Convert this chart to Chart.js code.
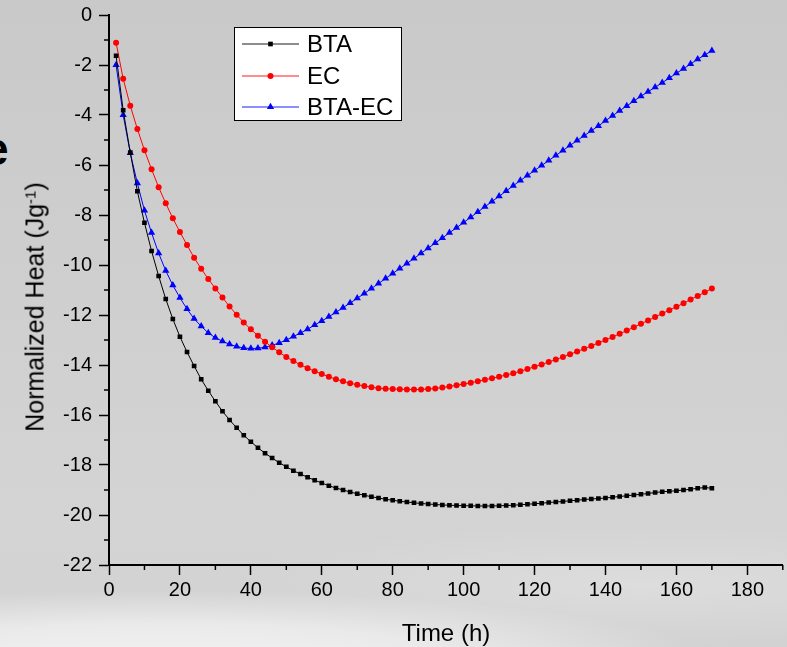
<!DOCTYPE html>
<html>
<head>
<meta charset="utf-8">
<script src="https://cdn.jsdelivr.net/npm/chart.js@4.4.1/dist/chart.umd.min.js"></script>
<style>
  html, body { margin: 0; padding: 0; }
  body {
    width: 787px; height: 647px; overflow: hidden; position: relative;
    font-family: "Liberation Sans", Arial, sans-serif;
    background:
      radial-gradient(ellipse 560px 75px at 160px 665px, rgba(244,244,244,0.97) 0%, rgba(238,238,238,0.85) 55%, rgba(238,238,238,0) 100%),
      radial-gradient(ellipse 420px 60px at 640px 585px, rgba(225,225,225,0.7) 0%, rgba(225,225,225,0) 100%),
      linear-gradient(180deg, #c9c9c9 0%, #cfcfcf 45%, #d4d4d4 80%, #d2d2d2 100%);
  }
  #chart { position: absolute; left: 0; top: 0; }
  .label { position: absolute; white-space: nowrap; color: #000; }
  #yTitle { left: 35px; top: 307px; font-size: 25px; transform: translate(-50%, -50%) rotate(-90deg); }
  #yTitle sup { font-size: 15px; vertical-align: 0.55em; line-height: 0; }
  #xTitle { left: 446px; top: 633px; font-size: 24px; transform: translate(-50%, -50%); }
  #frag { left: -17px; top: 122px; font-size: 46px; font-weight: bold; }
</style>
</head>
<body>
<div class="label" id="frag">e</div>
<canvas id="chart" width="787" height="647"></canvas>
<div class="label" id="yTitle">Normalized Heat (Jg<sup>-1</sup>)</div>
<div class="label" id="xTitle">Time (h)</div>
<script>
// Sampling times (h)
const times = [2,4,6,8,10,12,14,16,18,20,22,24,26,28,30,32,34,36,38,40,
  42,44,46,48,50,52,54,56,58,60,62,64,66,68,70,72,74,76,78,80,
  82,84,86,88,90,92,94,96,98,100,102,104,106,108,110,112,114,116,118,120,
  122,124,126,128,130,132,134,136,138,140,142,144,146,148,150,152,154,156,158,160,
  162,164,166,168,170];

// Normalized heat (J/g) per sample
const bta = [-1.63,-3.81,-5.50,-7.05,-8.31,-9.44,-10.44,-11.36,-12.16,-12.87,
  -13.48,-14.04,-14.57,-15.03,-15.45,-15.85,-16.20,-16.51,-16.81,-17.07,
  -17.31,-17.53,-17.72,-17.91,-18.07,-18.23,-18.36,-18.49,-18.61,-18.72,
  -18.83,-18.92,-19.00,-19.08,-19.15,-19.21,-19.27,-19.32,-19.37,-19.41,
  -19.45,-19.48,-19.51,-19.54,-19.56,-19.58,-19.60,-19.61,-19.62,-19.63,
  -19.63,-19.64,-19.64,-19.64,-19.63,-19.62,-19.61,-19.59,-19.57,-19.55,
  -19.53,-19.50,-19.48,-19.46,-19.43,-19.41,-19.38,-19.36,-19.34,-19.32,
  -19.29,-19.26,-19.23,-19.20,-19.17,-19.14,-19.10,-19.07,-19.05,-19.03,
  -19.00,-18.97,-18.93,-18.90,-18.93];

const ec = [-1.11,-2.55,-3.63,-4.56,-5.41,-6.17,-6.89,-7.53,-8.13,-8.68,
  -9.20,-9.71,-10.15,-10.56,-10.94,-11.30,-11.66,-11.99,-12.30,-12.57,
  -12.83,-13.07,-13.29,-13.49,-13.68,-13.84,-13.99,-14.13,-14.25,-14.36,
  -14.47,-14.57,-14.65,-14.73,-14.79,-14.84,-14.89,-14.93,-14.95,-14.96,
  -14.97,-14.98,-14.98,-14.98,-14.96,-14.94,-14.90,-14.86,-14.81,-14.76,
  -14.71,-14.65,-14.59,-14.53,-14.47,-14.40,-14.33,-14.25,-14.16,-14.07,
  -13.98,-13.88,-13.78,-13.68,-13.57,-13.46,-13.35,-13.24,-13.12,-13.00,
  -12.88,-12.75,-12.62,-12.49,-12.35,-12.22,-12.08,-11.94,-11.81,-11.67,
  -11.53,-11.38,-11.24,-11.09,-10.94];

const btaEc = [-2.00,-4.00,-5.52,-6.73,-7.82,-8.71,-9.53,-10.23,-10.81,-11.31,
  -11.76,-12.15,-12.45,-12.72,-12.91,-13.05,-13.17,-13.26,-13.32,-13.34,
  -13.33,-13.29,-13.21,-13.12,-13.00,-12.86,-12.72,-12.57,-12.40,-12.24,
  -12.07,-11.89,-11.71,-11.52,-11.33,-11.14,-10.94,-10.74,-10.54,-10.34,
  -10.14,-9.94,-9.74,-9.53,-9.33,-9.12,-8.92,-8.71,-8.51,-8.30,
  -8.09,-7.88,-7.67,-7.46,-7.25,-7.04,-6.83,-6.62,-6.42,-6.22,
  -6.02,-5.82,-5.62,-5.42,-5.22,-5.02,-4.83,-4.63,-4.44,-4.23,
  -4.03,-3.83,-3.64,-3.44,-3.25,-3.07,-2.89,-2.71,-2.52,-2.33,
  -2.15,-1.96,-1.77,-1.60,-1.43];

// Axis ticks
const xMajor = [0,20,40,60,80,100,120,140,160,180];
const xMinor = [10,30,50,70,90,110,130,150,170,190];
const yMajor = [-22,-20,-18,-16,-14,-12,-10,-8,-6,-4,-2,0];
const yMinor = [-21,-19,-17,-15,-13,-11,-9,-7,-5,-3,-1];

const FONT = '"Liberation Sans", Arial, sans-serif';

const series = [
  { label: 'BTA',    values: bta,   color: '#000000', style: 'rect',     radius: 3.3 },
  { label: 'EC',     values: ec,    color: '#ff0000', style: 'circle',   radius: 3.0 },
  { label: 'BTA-EC', values: btaEc, color: '#0000ff', style: 'triangle', radius: 4.2 }
];

// Short minor tick marks between labelled ticks
const minorTicks = {
  id: 'minorTicks',
  afterDraw(chart) {
    const { ctx, scales: { x, y } } = chart;
    ctx.save();
    ctx.strokeStyle = '#000';
    ctx.lineWidth = 1.5;
    xMinor.forEach(v => {
      const px = x.getPixelForValue(v);
      ctx.beginPath(); ctx.moveTo(px, x.top); ctx.lineTo(px, x.top + 5); ctx.stroke();
    });
    yMinor.forEach(v => {
      const py = y.getPixelForValue(v);
      ctx.beginPath(); ctx.moveTo(y.right, py); ctx.lineTo(y.right - 5, py); ctx.stroke();
    });
    ctx.restore();
  }
};

// Boxed legend with line + marker samples
const boxLegend = {
  id: 'boxLegend',
  afterDraw(chart) {
    const ctx = chart.ctx;
    const bx = 234.5, by = 27.5, bw = 167, bh = 93;
    ctx.save();
    ctx.fillStyle = '#ffffff';
    ctx.fillRect(bx, by, bw, bh);
    ctx.strokeStyle = '#000';
    ctx.lineWidth = 1;
    ctx.strokeRect(bx, by, bw, bh);
    const rows = [44, 76, 107];
    chart.data.datasets.forEach((ds, i) => {
      const yy = rows[i];
      ctx.strokeStyle = ds.borderColor;
      ctx.globalAlpha = 0.6;
      ctx.lineWidth = 1.5;
      ctx.beginPath(); ctx.moveTo(242, yy); ctx.lineTo(299, yy); ctx.stroke();
      ctx.globalAlpha = 1;
      ctx.fillStyle = ds.pointBackgroundColor;
      Chart.helpers.drawPoint(ctx, {
        pointStyle: ds.pointStyle, radius: ds.pointRadius, borderWidth: 0, rotation: 0
      }, 270.5, yy);
      ctx.fillStyle = '#000';
      ctx.font = '24px ' + FONT;
      ctx.textBaseline = 'middle';
      ctx.textAlign = 'left';
      ctx.fillText(ds.label, 307, yy + 1);
    });
    ctx.restore();
  }
};

const tickFont = { family: FONT, size: 20 };

new Chart(document.getElementById('chart'), {
  type: 'line',
  data: {
    datasets: series.map(s => ({
      label: s.label,
      data: times.map((t, i) => ({ x: t, y: s.values[i] })),
      borderColor: s.color,
      backgroundColor: s.color,
      borderWidth: 1,
      pointStyle: s.style,
      pointRadius: s.radius,
      pointBackgroundColor: s.color,
      pointBorderWidth: 0,
      tension: 0,
      fill: false
    }))
  },
  options: {
    responsive: false,
    animation: false,
    layout: { padding: { top: 15, right: 3, left: 0, bottom: 0 } },
    plugins: { legend: { display: false }, tooltip: { enabled: false } },
    scales: {
      x: {
        type: 'linear', min: 0, max: 190,
        afterBuildTicks: s => { s.ticks = xMajor.map(v => ({ value: v })); },
        afterFit: s => { s.height = 82; s.paddingLeft = 0; s.paddingRight = 0; },
        grid: { drawOnChartArea: false, drawTicks: true, tickLength: 10, tickWidth: 1.5, tickColor: '#000' },
        border: { display: true, color: '#000', width: 2 },
        ticks: { color: '#000', font: tickFont, padding: 3, maxRotation: 0, autoSkip: false }
      },
      y: {
        type: 'linear', min: -22, max: 0,
        afterBuildTicks: s => { s.ticks = yMajor.map(v => ({ value: v })); },
        afterFit: s => { s.width = 109; s.paddingTop = 0; s.paddingBottom = 0; },
        grid: { drawOnChartArea: false, drawTicks: true, tickLength: 10, tickWidth: 1.5, tickColor: '#000' },
        border: { display: true, color: '#000', width: 2 },
        ticks: { color: '#000', font: tickFont, padding: 7, autoSkip: false }
      }
    }
  },
  plugins: [minorTicks, boxLegend]
});
</script>
</body>
</html>
